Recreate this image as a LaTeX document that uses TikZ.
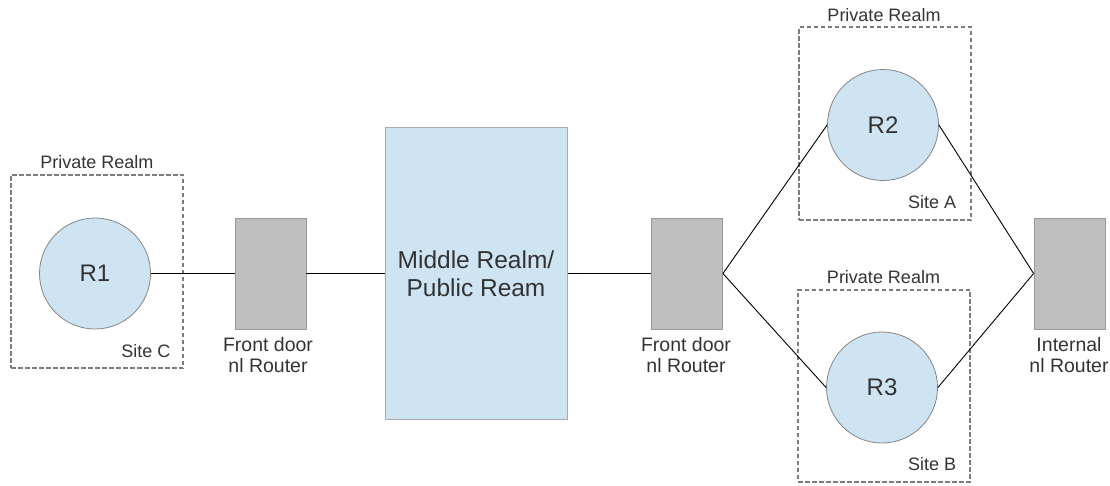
\documentclass[tikz,border=0pt]{standalone}
\usepackage{fontspec}
\setmainfont{Liberation Sans}
\definecolor{realmblue}{HTML}{CFE4F3}
\definecolor{circgray}{HTML}{858585}
\definecolor{routergray}{HTML}{BFBFBF}
\definecolor{routeredge}{HTML}{999999}
\definecolor{midedge}{HTML}{A6ACB3}
\definecolor{dashgray}{HTML}{7C7C7C}
\definecolor{txt}{HTML}{333333}
\begin{document}
\begin{tikzpicture}[x=1pt,y=-1pt,
  realm/.style={circle, draw=circgray, fill=realmblue, line width=0.8pt,
    minimum size=111pt, inner sep=0pt, text=txt, font=\fontsize{24}{28}\selectfont},
  router/.style={rectangle, draw=routeredge, fill=routergray, line width=0.8pt,
    minimum width=71pt, minimum height=111pt, inner sep=0pt},
  middlebox/.style={rectangle, draw=midedge, fill=realmblue, line width=1pt,
    minimum width=182pt, minimum height=292pt, inner sep=0pt, align=center,
    text=txt, font=\fontsize{24.5}{28}\selectfont},
  sitebox/.style={rectangle, draw=dashgray, dash pattern=on 4.5pt off 2.5pt,
    line width=2pt, inner sep=0pt},
  lbl/.style={text=txt, font=\fontsize{18}{20}\selectfont, inner sep=0pt},
  rlbl/.style={text=txt, font=\fontsize{19.5}{21.5}\selectfont, align=center,
    inner sep=0pt, anchor=north},
  link/.style={draw=black, line width=0.9pt}
]
\useasboundingbox (0,0) rectangle (1110,485);

% dashed site enclosures
\node[sitebox, minimum width=172pt, minimum height=193.5pt] (siteC) at (97,271.25) {};
\node[sitebox, minimum width=172pt, minimum height=193pt] (siteA) at (885,123.5) {};
\node[sitebox, minimum width=172pt, minimum height=192pt] (siteB) at (884,385.5) {};

\node[lbl] (prC) at (97,162) {Private Realm};
\node[lbl] (prA) at (884,15) {Private Realm};
\node[lbl] (prB) at (883.5,277) {Private Realm};
\node[lbl] (sC) at (146,351) {Site C};
\node[lbl] (sA) at (932,202) {Site A};
\node[lbl] (sB) at (932,464) {Site B};

% realms
\node[realm] (r1) at (95,273.5) {R1};
\node[realm] (r2) at (883,125) {R2};
\node[realm] (r3) at (882,387.5) {R3};

% routers
\node[router] (fd1) at (270.5,273.5) {};
\node[router] (fd2) at (687,273.5) {};
\node[router] (ir) at (1069.5,273.5) {};
\node[rlbl] (fd1l) at (268,337) {Front door\\nl Router};
\node[rlbl] (fd2l) at (686,337) {Front door\\nl Router};
\node[rlbl] (irl) at (1069,337) {Internal\\nl Router};

% public realm
\node[middlebox] (mid) at (476,273.5) {Middle Realm/\\Public Ream};

% links
\draw[link] (r1.east) -- (fd1.west);
\draw[link] (fd1.east) -- (mid.west);
\draw[link] (mid.east) -- (fd2.west);
\draw[link] (fd2.east) -- (r2.west);
\draw[link] (fd2.east) -- (r3.west);
\draw[link] (r2.east) -- (ir.west);
\draw[link] (r3.east) -- (ir.west);
\end{tikzpicture}
\end{document}
